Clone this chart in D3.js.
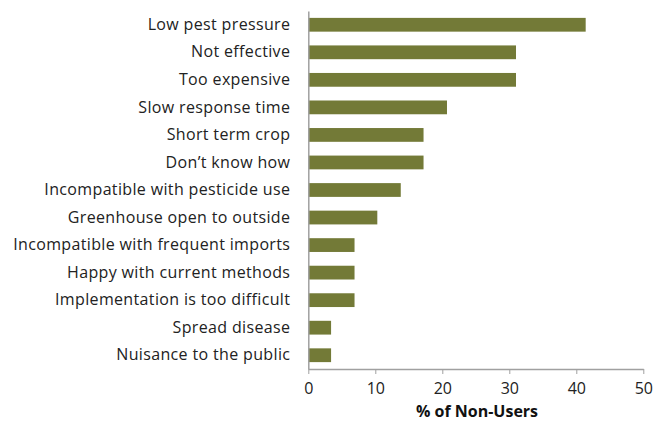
<!DOCTYPE html>
<html><head><meta charset="utf-8">
<script src="https://cdn.jsdelivr.net/npm/d3@7"></script>
<style>body{margin:0;background:#fff}text{font-family:"Open Sans",sans-serif}</style>
</head><body><svg id="c" width="655" height="423"></svg>
<script>
const categories=["Low pest pressure","Not effective","Too expensive","Slow response time","Short term crop","Don\u2019t know how","Incompatible with pesticide use","Greenhouse open to outside","Incompatible with frequent imports","Happy with current methods ","Implementation is too difficult","Spread disease","Nuisance to the public"];
const values=[41.4,31.0,31.0,20.7,17.2,17.2,13.8,10.3,6.9,6.9,6.9,3.4,3.4];
const xTicks=[0,10,20,30,40,50];
const xTitle="% of Non-Users";
const svg=d3.select("#c");
const m={l:308.3,r:643.3,t:11,b:369};
const x=d3.scaleLinear().domain([0,50]).range([m.l,m.r]);
const y=d3.scaleBand().domain(categories).range([m.t,m.b]).paddingInner(0.5).paddingOuter(0.25);
svg.selectAll("rect.bar").data(values).join("rect").attr("class","bar")
 .attr("x",x(0)).attr("y",(d,i)=>y(categories[i])).attr("width",d=>x(d)-x(0)).attr("height",y.bandwidth())
 .attr("fill","#737A37");
const xa=svg.append("g").attr("transform",`translate(0,${m.b})`).call(d3.axisBottom(x).tickValues(xTicks).tickSize(5).tickSizeOuter(0).tickPadding(9));
xa.select(".domain").attr("stroke","#a0a0a0").attr("stroke-width",1.5);
xa.selectAll(".tick line").attr("stroke","#a0a0a0");
xa.selectAll("text").attr("font-size",16).attr("fill","#222").style("font-family","'Open Sans',sans-serif");
const ya=svg.append("g").attr("transform",`translate(${m.l},0)`).call(d3.axisLeft(y).tickSize(0).tickPadding(18));
ya.select(".domain").attr("stroke","#a0a0a0").attr("stroke-width",1.5);
ya.selectAll("text").attr("font-size",16).attr("letter-spacing","0.35px").attr("fill","#222").style("font-family","'Open Sans',sans-serif");
svg.append("text").attr("x",477).attr("y",417).attr("text-anchor","middle").attr("font-size",16).attr("font-weight","bold").attr("fill","#111").style("font-family","'Open Sans',sans-serif").text(xTitle);
</script></body></html>
